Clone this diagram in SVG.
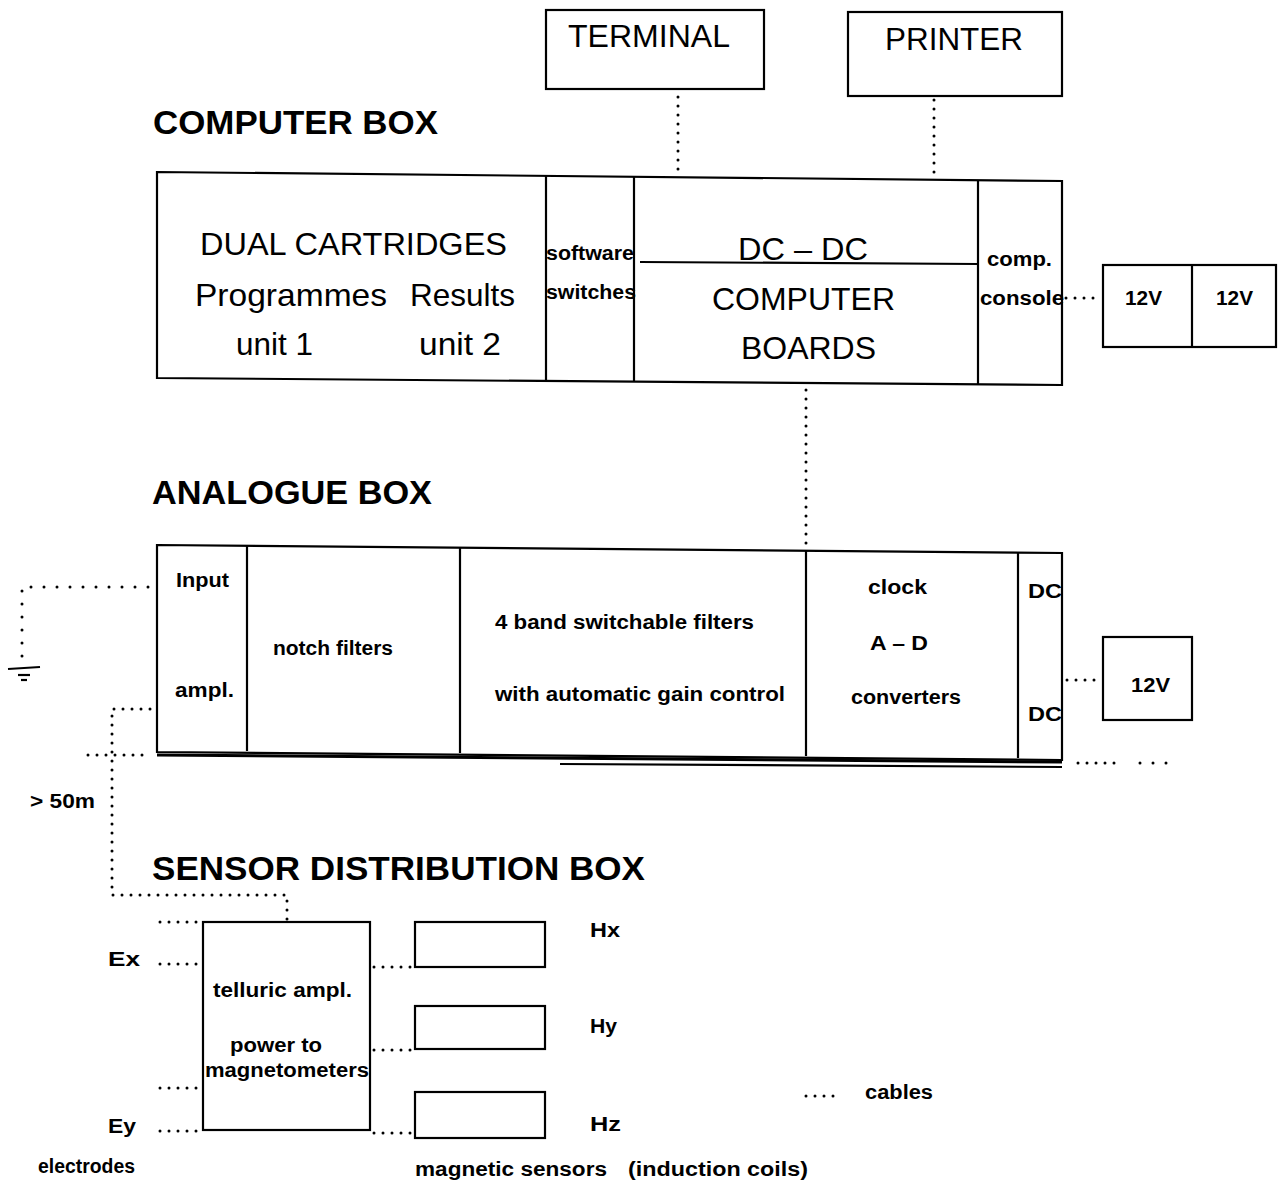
<svg xmlns="http://www.w3.org/2000/svg" width="1281" height="1185" viewBox="0 0 1281 1185">
<style>
.bx{fill:none;stroke:#000;stroke-width:2.2}
.ln{stroke:#000;stroke-width:2.2;fill:none}
.dot{stroke:#000;stroke-width:3;fill:none;stroke-linecap:round;stroke-dasharray:0 9}
.dotw{stroke:#000;stroke-width:3;fill:none;stroke-linecap:round;stroke-dasharray:0 13}
.sm{font-family:"Liberation Sans",Arial,sans-serif;font-weight:bold;font-size:20px;fill:#000}
.lg{font-family:"Liberation Sans",Arial,sans-serif;font-size:32px;fill:#000}
.tt{font-family:"Liberation Sans",Arial,sans-serif;font-weight:bold;font-size:34px;fill:#000}
</style>
<rect width="1281" height="1185" fill="#fff"/>

<g id="terminal">
<rect class="bx" x="546" y="10" width="218" height="79"/>
<text class="lg" x="568" y="47" textLength="162" lengthAdjust="spacingAndGlyphs">TERMINAL</text>
</g>
<g id="printer">
<rect class="bx" x="848" y="12" width="214" height="84"/>
<text class="lg" x="885" y="50" textLength="138" lengthAdjust="spacingAndGlyphs">PRINTER</text>
</g>

<text class="tt" x="153" y="134" textLength="285" lengthAdjust="spacingAndGlyphs">COMPUTER BOX</text>
<g id="computer-box">
<path class="bx" d="M157,172 L1062,181 L1062,385 L157,378 Z"/>
<line class="ln" x1="546" y1="176" x2="546" y2="382"/>
<line class="ln" x1="634" y1="177" x2="634" y2="382"/>
<line class="ln" x1="978" y1="180" x2="978" y2="385"/>
<line class="ln" x1="640" y1="262" x2="978" y2="264"/>
<text class="lg" x="200" y="255" textLength="307" lengthAdjust="spacingAndGlyphs">DUAL CARTRIDGES</text>
<text class="lg" x="195" y="306" textLength="192" lengthAdjust="spacingAndGlyphs">Programmes</text>
<text class="lg" x="410" y="306" textLength="105" lengthAdjust="spacingAndGlyphs">Results</text>
<text class="lg" x="236" y="355" textLength="77" lengthAdjust="spacingAndGlyphs">unit 1</text>
<text class="lg" x="419" y="355" textLength="82" lengthAdjust="spacingAndGlyphs">unit 2</text>
<text class="sm" x="546" y="260" textLength="88" lengthAdjust="spacingAndGlyphs">software</text>
<text class="sm" x="546" y="299" textLength="90" lengthAdjust="spacingAndGlyphs">switches</text>
<text class="lg" x="738" y="260" textLength="130" lengthAdjust="spacingAndGlyphs">DC – DC</text>
<text class="lg" x="712" y="310" textLength="183" lengthAdjust="spacingAndGlyphs">COMPUTER</text>
<text class="lg" x="741" y="359" textLength="135" lengthAdjust="spacingAndGlyphs">BOARDS</text>
<text class="sm" x="987" y="266" textLength="65" lengthAdjust="spacingAndGlyphs">comp.</text>
<text class="sm" x="980" y="305" textLength="84" lengthAdjust="spacingAndGlyphs">console</text>
</g>
<g id="battery-12v-pair">
<rect class="bx" x="1103" y="265" width="173" height="82"/>
<line class="ln" x1="1192" y1="265" x2="1192" y2="347"/>
<text class="sm" x="1125" y="305" textLength="37" lengthAdjust="spacingAndGlyphs">12V</text>
<text class="sm" x="1216" y="305" textLength="37" lengthAdjust="spacingAndGlyphs">12V</text>
</g>

<text class="tt" x="152" y="504" textLength="280" lengthAdjust="spacingAndGlyphs">ANALOGUE BOX</text>
<g id="analogue-box">
<path class="bx" d="M157,545 L1062,553 L1062,760 L157,752 Z"/>
<line class="ln" x1="157" y1="755" x2="1062" y2="762" style="stroke-width:3"/>
<line class="ln" x1="560" y1="764" x2="1062" y2="767"/>
<line class="ln" x1="247" y1="546" x2="247" y2="751"/>
<line class="ln" x1="460" y1="547" x2="460" y2="753"/>
<line class="ln" x1="806" y1="550" x2="806" y2="756"/>
<line class="ln" x1="1018" y1="552" x2="1018" y2="758"/>
<text class="sm" x="176" y="587" textLength="53" lengthAdjust="spacingAndGlyphs">Input</text>
<text class="sm" x="175" y="697" textLength="59" lengthAdjust="spacingAndGlyphs">ampl.</text>
<text class="sm" x="273" y="655" textLength="120" lengthAdjust="spacingAndGlyphs">notch filters</text>
<text class="sm" x="495" y="629" textLength="259" lengthAdjust="spacingAndGlyphs">4 band switchable filters</text>
<text class="sm" x="495" y="701" textLength="290" lengthAdjust="spacingAndGlyphs">with automatic gain control</text>
<text class="sm" x="868" y="594" textLength="59" lengthAdjust="spacingAndGlyphs">clock</text>
<text class="sm" x="870" y="650" textLength="58" lengthAdjust="spacingAndGlyphs">A – D</text>
<text class="sm" x="851" y="704" textLength="110" lengthAdjust="spacingAndGlyphs">converters</text>
<text class="sm" x="1028" y="598" textLength="34" lengthAdjust="spacingAndGlyphs">DC</text>
<text class="sm" x="1028" y="721" textLength="34" lengthAdjust="spacingAndGlyphs">DC</text>
</g>
<g id="battery-12v">
<rect class="bx" x="1103" y="637" width="89" height="83"/>
<text class="sm" x="1131" y="692" textLength="39" lengthAdjust="spacingAndGlyphs">12V</text>
</g>

<text class="tt" x="152" y="880" textLength="493" lengthAdjust="spacingAndGlyphs">SENSOR DISTRIBUTION BOX</text>
<g id="telluric-box">
<rect class="bx" x="203" y="922" width="167" height="208"/>
<text class="sm" x="213" y="997" textLength="139" lengthAdjust="spacingAndGlyphs">telluric ampl.</text>
<text class="sm" x="230" y="1052" textLength="92" lengthAdjust="spacingAndGlyphs">power to</text>
<text class="sm" x="205" y="1077" textLength="164" lengthAdjust="spacingAndGlyphs">magnetometers</text>
</g>
<g id="sensor-hx"><rect class="bx" x="415" y="922" width="130" height="45"/></g>
<g id="sensor-hy"><rect class="bx" x="415" y="1006" width="130" height="43"/></g>
<g id="sensor-hz"><rect class="bx" x="415" y="1092" width="130" height="46"/></g>

<g id="ground">
<line class="ln" x1="8" y1="669" x2="40" y2="667"/>
<line class="ln" x1="18" y1="675" x2="30" y2="675"/>
<line class="ln" x1="21" y1="680" x2="27" y2="680"/>
</g>

<g id="connectors">
<line class="dot" x1="678" y1="97" x2="678" y2="170"/>
<line class="dot" x1="934" y1="100" x2="934" y2="176"/>
<line class="dot" x1="1066" y1="298" x2="1100" y2="298"/>
<line class="dot" x1="806" y1="390" x2="806" y2="548"/>
<line class="dot" x1="1067" y1="680" x2="1100" y2="680"/>
<line class="dot" x1="1078" y1="763" x2="1118" y2="763"/>
<line class="dotw" x1="1140" y1="763" x2="1170" y2="763"/>
<path class="dotw" d="M148,587 L22,587 L22,662"/>
<path class="dot" d="M150,709 L112,709 L112,895 L287,895 L287,920"/>
<line class="dot" x1="88" y1="755" x2="150" y2="755"/>
<line class="dot" x1="160" y1="922" x2="200" y2="922"/>
<line class="dot" x1="160" y1="964" x2="200" y2="964"/>
<line class="dot" x1="160" y1="1088" x2="200" y2="1088"/>
<line class="dot" x1="160" y1="1131" x2="200" y2="1131"/>
<line class="dot" x1="374" y1="967" x2="412" y2="967"/>
<line class="dot" x1="374" y1="1050" x2="412" y2="1050"/>
<line class="dot" x1="374" y1="1133" x2="412" y2="1133"/>
</g>

<text class="sm" x="30" y="808" textLength="65" lengthAdjust="spacingAndGlyphs">&gt; 50m</text>
<text class="sm" x="108" y="966" textLength="32" lengthAdjust="spacingAndGlyphs">Ex</text>
<text class="sm" x="108" y="1133" textLength="28" lengthAdjust="spacingAndGlyphs">Ey</text>
<text class="sm" x="38" y="1173" textLength="97" lengthAdjust="spacingAndGlyphs">electrodes</text>
<text class="sm" x="590" y="937" textLength="30" lengthAdjust="spacingAndGlyphs">Hx</text>
<text class="sm" x="590" y="1033" textLength="27" lengthAdjust="spacingAndGlyphs">Hy</text>
<text class="sm" x="590" y="1131" textLength="31" lengthAdjust="spacingAndGlyphs">Hz</text>
<text class="sm" x="415" y="1176" textLength="192" lengthAdjust="spacingAndGlyphs">magnetic sensors</text>
<text class="sm" x="628" y="1176" textLength="180" lengthAdjust="spacingAndGlyphs">(induction coils)</text>
<line class="dot" x1="806" y1="1096" x2="842" y2="1096"/>
<text class="sm" x="865" y="1099" textLength="68" lengthAdjust="spacingAndGlyphs">cables</text>
</svg>
